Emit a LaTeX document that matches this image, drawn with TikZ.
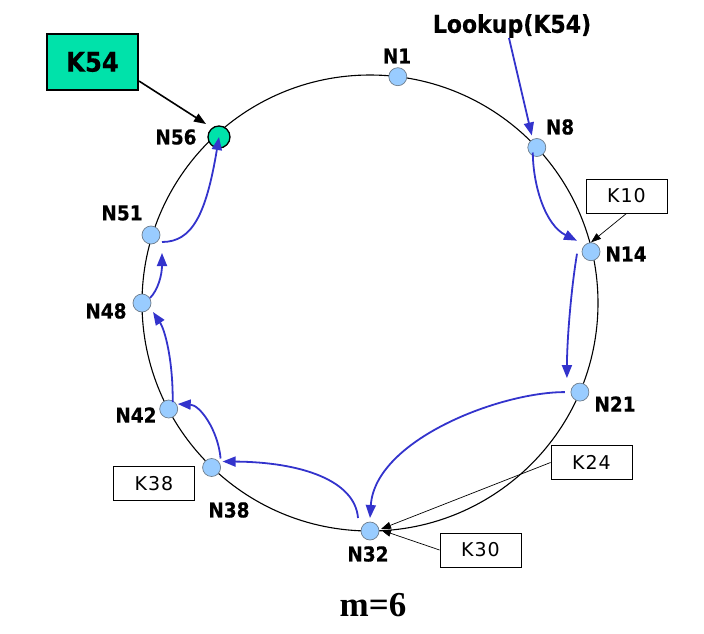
\documentclass[tikz,border=0pt]{standalone}
\usepackage{fontspec}
\setmainfont{DejaVu Sans}[LetterSpace=5]
\newfontfamily\condfont{DejaVu Sans Condensed}[FakeBold=0.5]
\newfontfamily\serifbf{Liberation Serif}
\usetikzlibrary{arrows.meta}
\definecolor{nodeblue}{RGB}{153,204,255}
\definecolor{nodeedge}{RGB}{110,125,140}
\definecolor{arrblue}{RGB}{51,51,204}
\definecolor{teal54}{RGB}{0,226,170}
\tikzset{
  dot/.style={circle, fill=nodeblue, draw=nodeedge, line width=0.7pt, minimum size=18pt, inner sep=0pt},
  lbl/.style={inner sep=0pt, font=\condfont\bfseries\fontsize{20.5}{24}\selectfont},
  keybox/.style={draw=black, line width=0.9pt, minimum width=81pt, minimum height=34pt, inner sep=0pt, font=\fontsize{19}{22}\selectfont},
  bluearr/.style={draw=arrblue, line width=1.8pt, -{Triangle[length=13pt,width=10pt]}},
  thinarr/.style={draw=black, line width=0.7pt, -{Triangle[length=10pt,width=7pt]}},
}
\begin{document}
\begin{tikzpicture}[x=1pt,y=-1pt]
\useasboundingbox (0,0) rectangle (704,634);
% ring
\coordinate (ctr) at (370,303);
\draw[black, line width=1.1pt] (ctr) circle[radius=228pt];

% nodes on ring
\node[dot] (N1)  at (397.8,76.7) {};
\node[dot] (N8)  at (536.8,147.5) {};
\node[dot] (N14) at (591,251.7) {};
\node[dot] (N21) at (579.9,392.1) {};
\node[dot] (N32) at (370,531) {};
\node[dot] (N38) at (211.6,467.5) {};
\node[dot] (N42) at (168.7,409) {};
\node[dot] (N48) at (142,303) {};
\node[dot] (N51) at (151,235) {};

% labels
\node[lbl] (lN1)  at (397,56) {N1};
\node[lbl] (lN8)  at (560,127) {N8};
\node[lbl] (lN14) at (626,254) {N14};
\node[lbl] (lN21) at (615,404) {N21};
\node[lbl] (lN32) at (368,554) {N32};
\node[lbl] (lN38) at (229,510) {N38};
\node[lbl] (lN42) at (136,415) {N42};
\node[lbl] (lN48) at (106,311) {N48};
\node[lbl] (lN51) at (122,213) {N51};
\node[lbl] (lN56) at (176,137) {N56};

% key boxes
\node[keybox] (k10) at (626.5,196) {K10};
\node[keybox] (k24) at (591.5,462.5) {K24};
\node[keybox] (k30) at (480.5,550) {K30};
\node[keybox] (k38) at (154,483.5) {K38};
\node[draw=black, fill=teal54, line width=2.2pt, minimum width=91pt, minimum height=56pt, inner sep=0pt,
      font=\condfont\bfseries\fontsize{27}{30}\selectfont] (k54) at (92.5,62) {K54};

% lookup text
\node[inner sep=0pt, font=\condfont\bfseries\fontsize{24.5}{28}\selectfont] (lookup) at (512,26) {Lookup(K54)};

% m=6
\node[inner sep=0pt, font=\serifbf\bfseries\fontsize{35}{40}\selectfont] (m6) at (373,605) {m=6};

% thin black key arrows
\draw[thinarr] (k10.south) -- (N14.north);
\draw[thinarr] (k24.west) -- ([shift={(11,-2)}]N32.center);
\draw[thinarr] (k30.west) -- ([shift={(11,-1)}]N32.center);

% K54 -> N56
\draw[black, line width=1.6pt, -{Triangle[length=12pt,width=9pt]}] ([shift={(0,-10)}]k54.south east) -- (206,124) coordinate (k54tip);

% lookup arrow
\draw[bluearr] ([xshift=-3pt]lookup.south) -- ([shift={(-5,-12)}]N8.center);

% lookup path
\draw[bluearr] ([shift={(-4,5)}]N8.center) .. controls (533,185) and (545,225) .. ([shift={(-14,-11)}]N14.center);
\draw[bluearr] ([shift={(-14,2)}]N14.center) .. controls (571,290) and (567,340) .. ([shift={(-13,-14)}]N21.center);
\draw[bluearr] ([shift={(-15,0)}]N21.center) .. controls (500,392) and (375,440) .. ([shift={(0,-13)}]N32.center);
\draw[bluearr] ([shift={(-12,-13)}]N32.center) .. controls (355,480) and (300,462) .. ([shift={(11,-6)}]N38.center);
\draw[bluearr] ([shift={(9,-9)}]N38.center) .. controls (218,430) and (200,405) .. ([shift={(9,-5)}]N42.center);
\draw[bluearr] ([shift={(4,-7)}]N42.center) .. controls (173,360) and (165,330) .. ([shift={(11,9)}]N48.center);
\draw[bluearr] ([shift={(8,-5)}]N48.center) .. controls (158,290) and (162,275) .. ([shift={(11,18)}]N51.center);

% N56 on top
\node[circle, fill=teal54, draw=black, line width=1.3pt, minimum size=22pt, inner sep=0pt] (N56) at (219,137) {};
\draw[bluearr] ([shift={(11,7)}]N51.center) .. controls (192,242) and (206,215) .. (N56.center);
\end{tikzpicture}
\end{document}
